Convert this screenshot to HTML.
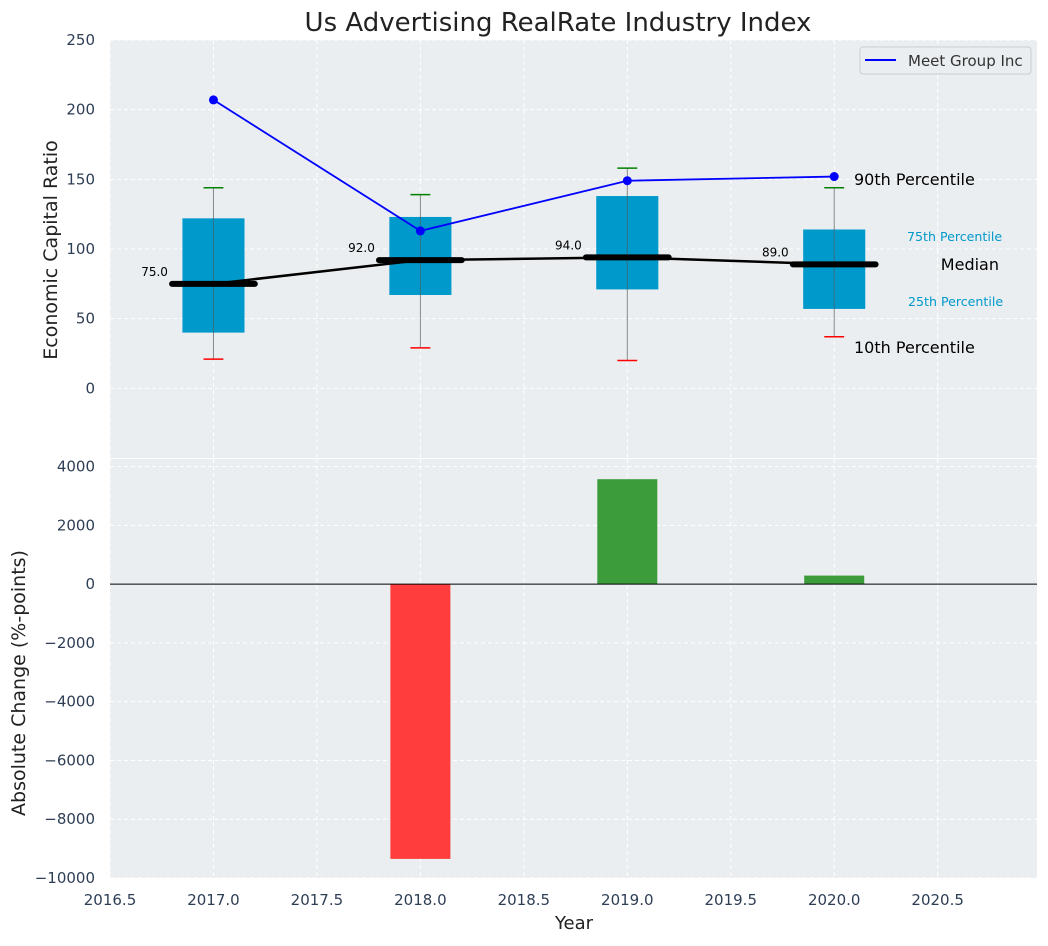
<!DOCTYPE html>
<html><head><meta charset="utf-8"><style>
body{margin:0;background:#fff;font-family:"DejaVu Sans","Liberation Sans",sans-serif}
svg text{font-family:"DejaVu Sans","Liberation Sans",sans-serif}
</style></head><body>
<svg id="c" width="1048" height="942"></svg>
<script>
const years=[2017,2018,2019,2020];
const p10=[21,29,20,37];
const p25=[40,67,71,57];
const medians=[75,92,94,89];
const p75=[122,123,138,114];
const p90=[144,139,158,144];
const company=[207,113,149,152];
const changes=[0,-9350,3570,290];
const topTicks=[0,50,100,150,200,250];
const botTicks=[-10000,-8000,-6000,-4000,-2000,0,2000,4000];
const xTicks=[2016.5,2017.0,2017.5,2018.0,2018.5,2019.0,2019.5,2020.0,2020.5];

const NS="http://www.w3.org/2000/svg";
const svg=document.getElementById('c');
function el(t,a,txt){const e=document.createElementNS(NS,t);for(const k in a)e.setAttribute(k,a[k]);if(txt!=null)e.textContent=txt;svg.appendChild(e);return e;}
const L=110,R=1037;
const X=v=>L+(v-2016.5)*(R-L)/4.48;
const T0=40,T1=458,Y1=v=>T1-(v+50)*(T1-T0)/300;
const B0=459,B1=878,Y2=v=>B1-(v+10000)*(B1-B0)/14257;

let e;
e=el('rect',{x:L,y:T0,width:R-L,height:T1-T0,fill:'#eaeef0'});

e=el('rect',{x:L,y:B0,width:R-L,height:B1-B0,fill:'#eaeef0'});


xTicks.forEach(t=>{
 el('line',{x1:X(t),x2:X(t),y1:T0,y2:T1,stroke:'#fff','stroke-dasharray':'4,3'});
 el('line',{x1:X(t),x2:X(t),y1:B0,y2:B1,stroke:'#fff','stroke-dasharray':'4,3'});
 e=el('text',{x:X(t),y:905,'text-anchor':'middle','font-size':15,fill:'#2e3e55'},t.toFixed(1));
 
});
topTicks.forEach(t=>{
 el('line',{x1:L,x2:R,y1:Y1(t),y2:Y1(t),stroke:'#fff','stroke-dasharray':'4,3'});
 e=el('text',{x:95,y:Y1(t)+5,'text-anchor':'end','font-size':15,fill:'#2e3e55'},t);
 
});
botTicks.forEach(t=>{
 el('line',{x1:L,x2:R,y1:Y2(t),y2:Y2(t),stroke:'#fff','stroke-dasharray':'4,3'});
 e=el('text',{x:95,y:Y2(t)+5,'text-anchor':'end','font-size':15,fill:'#2e3e55'},t.toString().replace('-','−'));
 
});

const hw=0.15,cw=0.048;
years.forEach((y,i)=>{
 e=el('line',{x1:X(y),x2:X(y),y1:Y1(p90[i]),y2:Y1(p10[i]),stroke:'#888','stroke-width':1});
 
 e=el('rect',{x:X(y-hw),y:Y1(p75[i]),width:X(y+hw)-X(y-hw),height:Y1(p25[i])-Y1(p75[i]),fill:'#0099cc'});
 
 el('line',{x1:X(y),x2:X(y),y1:Y1(p75[i]),y2:Y1(p25[i]),stroke:'#555','stroke-width':1,opacity:0.6});
 e=el('line',{x1:X(y-cw),x2:X(y+cw),y1:Y1(p90[i]),y2:Y1(p90[i]),stroke:'green','stroke-width':1.5});
 
 e=el('line',{x1:X(y-cw),x2:X(y+cw),y1:Y1(p10[i]),y2:Y1(p10[i]),stroke:'red','stroke-width':1.5});
 
});
e=el('polyline',{points:years.map((y,i)=>X(y)+','+Y1(medians[i])).join(' '),fill:'none',stroke:'#000','stroke-width':2.5});

years.forEach((y,i)=>{
 e=el('line',{x1:X(y-0.2),x2:X(y+0.2),y1:Y1(medians[i]),y2:Y1(medians[i]),stroke:'#000','stroke-width':6,'stroke-linecap':'round'});
 
 e=el('text',{x:X(y-0.22),y:Y1(medians[i])-8,'text-anchor':'end','font-size':12,fill:'#000'},medians[i].toFixed(1));
 
});
e=el('polyline',{points:years.map((y,i)=>X(y)+','+Y1(company[i])).join(' '),fill:'none',stroke:'#0000ff','stroke-width':1.8});

years.forEach((y,i)=>{e=el('circle',{cx:X(y),cy:Y1(company[i]),r:4.5,fill:'#0000ff'});
 });

[[854,185,'90th Percentile',16,'#000','start'],[854,353,'10th Percentile',16,'#000','start'],
 [999,270,'Median',16,'#000','end'],[907,241,'75th Percentile',12.6,'#0099cc','start'],
 [908,306,'25th Percentile',12.6,'#0099cc','start']].forEach(a=>{
 e=el('text',{x:a[0],y:a[1],'font-size':a[3],fill:a[4],'text-anchor':a[5]},a[2]);
 
});

years.forEach((y,i)=>{if(!changes[i])return;
 const v=changes[i];
 e=el('rect',{x:X(y-0.145),y:Math.min(Y2(0),Y2(v)),width:X(y+0.145)-X(y-0.145),height:Math.abs(Y2(v)-Y2(0)),fill:v<0?'#ff3d3d':'#3c9c3c'});
 
});
e=el('line',{x1:L,x2:R,y1:Y2(0),y2:Y2(0),stroke:'#000','stroke-width':1});


const g=el('rect',{x:860,y:47,width:171,height:27,rx:3,fill:'#eaeef0',stroke:'#ccc'});

el('line',{x1:865,x2:896,y1:60,y2:60,stroke:'#0000ff','stroke-width':2});
e=el('text',{x:908,y:66,'font-size':15,fill:'#333'},'Meet Group Inc');


e=el('text',{x:558,y:31,'text-anchor':'middle','font-size':26,fill:'#222'},'Us Advertising RealRate Industry Index');

e=el('text',{x:574,y:929,'text-anchor':'middle','font-size':18,fill:'#222'},'Year');

e=el('text',{x:0,y:0,'text-anchor':'middle','font-size':19,fill:'#222',transform:'translate(57,250) rotate(-90)'},'Economic Capital Ratio');

e=el('text',{x:0,y:0,'text-anchor':'middle','font-size':19,fill:'#222',transform:'translate(25,683) rotate(-90)'},'Absolute Change (%-points)');

</script>
</body></html>
